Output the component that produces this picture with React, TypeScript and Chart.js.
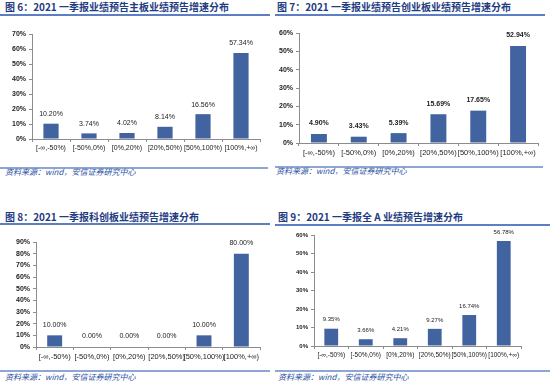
import React, { useEffect, useRef } from "react";
import { Chart, registerables } from "chart.js";
Chart.register(...registerables);

const categories = ["[-∞,-50%)", "[-50%,0%)", "[0%,20%)", "[20%,50%)", "[50%,100%)", "[100%,+∞)"];
const mainBoardValues = [10.2, 3.74, 4.02, 8.14, 16.56, 57.34];
const chiNextValues = [4.9, 3.43, 5.39, 15.69, 17.65, 52.94];
const starMarketValues = [10.0, 0.0, 0.0, 0.0, 10.0, 80.0];
const allAValues = [9.35, 3.66, 4.21, 9.27, 16.74, 56.78];

const titles = [
  "图 6：2021 一季报业绩预告主板业绩预告增速分布",
  "图 7：2021 一季报业绩预告创业板业绩预告增速分布",
  "图 8：2021 一季报科创板业绩预告增速分布",
  "图 9：2021 一季报全 A 业绩预告增速分布",
];
const sourceText = "资料来源：wind，安信证券研究中心";

const BAR = "#41639F";
const AXIS = "#8c8c8c";
const TITLE_COLOR = "#1F3B82";
const LINE_COLOR = "#5B7FC2";
const SEP_COLOR = "#8EA6D6";
const FONT = "'Liberation Sans', Arial, sans-serif";
const CJK = "'Noto Sans CJK SC', sans-serif";

type PanelCfg = {
  values: number[];
  max: number;
  left: number; top: number; width: number; height: number;
  yw: number; padTop: number; padRight: number; xh: number;
  tickSize: number; catSize: number; labelSize: number; labelBold: boolean; labelOffset: number;
};

const panels: PanelCfg[] = [
  { values: mainBoardValues, max: 70, left: 0, top: 20, width: 270, height: 140, yw: 32, padTop: 14, padRight: 10, xh: 21, tickSize: 7, catSize: 7, labelSize: 7, labelBold: false, labelOffset: 6 },
  { values: chiNextValues, max: 60, left: 275, top: 20, width: 275, height: 145, yw: 24, padTop: 13, padRight: 12, xh: 22, tickSize: 7, catSize: 7.5, labelSize: 7, labelBold: true, labelOffset: 7 },
  { values: starMarketValues, max: 90, left: 0, top: 230, width: 270, height: 135, yw: 36, padTop: 12, padRight: 10, xh: 18, tickSize: 7, catSize: 7.5, labelSize: 7, labelBold: false, labelOffset: 7 },
  { values: allAValues, max: 60, left: 275, top: 228, width: 275, height: 137, yw: 39, padTop: 7, padRight: 29, xh: 19, tickSize: 6, catSize: 6.5, labelSize: 6, labelBold: false, labelOffset: 6 },
];

function Panel({ cfg }: { cfg: PanelCfg }) {
  const ref = useRef<HTMLCanvasElement | null>(null);
  useEffect(() => {
    if (!ref.current) return;
    const labelPlugin = {
      id: "valueLabels",
      afterDatasetsDraw(chart: any) {
        const ctx = chart.ctx;
        const meta = chart.getDatasetMeta(0);
        ctx.save();
        ctx.font = `${cfg.labelBold ? "bold " : ""}${cfg.labelSize}px ${FONT}`;
        ctx.fillStyle = "#222";
        ctx.textAlign = "center";
        ctx.textBaseline = "bottom";
        meta.data.forEach((bar: any, i: number) => {
          const v = chart.data.datasets[0].data[i] as number;
          ctx.fillText(v.toFixed(2) + "%", bar.x, bar.y - cfg.labelOffset);
        });
        ctx.restore();
      },
    };
    const chart = new Chart(ref.current, {
      type: "bar",
      data: {
        labels: categories,
        datasets: [{ data: cfg.values, backgroundColor: BAR, barPercentage: 0.4, categoryPercentage: 1 }],
      },
      options: {
        animation: false,
        responsive: false,
        maintainAspectRatio: false,
        layout: { padding: { top: cfg.padTop, right: cfg.padRight, left: 0, bottom: 0 } },
        plugins: { legend: { display: false }, tooltip: { enabled: false } },
        scales: {
          x: {
            grid: { display: true, drawOnChartArea: false, tickLength: 3, color: AXIS, offset: true },
            border: { color: AXIS },
            ticks: { font: { family: FONT, size: cfg.catSize }, color: "#222", padding: 2, maxRotation: 0, autoSkip: false },
            afterFit: (s: any) => { s.height = cfg.xh; },
          },
          y: {
            min: 0,
            max: cfg.max,
            grid: { display: true, drawOnChartArea: false, tickLength: 3, color: AXIS },
            border: { color: AXIS },
            ticks: { stepSize: 10, callback: (v: any) => v + "%", font: { family: FONT, size: cfg.tickSize, weight: "bold" }, color: "#222", padding: 3 },
            afterFit: (s: any) => { s.width = cfg.yw; },
          },
        },
      } as any,
      plugins: [labelPlugin],
    });
    return () => chart.destroy();
  }, [cfg]);
  return (
    <canvas
      ref={ref}
      width={cfg.width}
      height={cfg.height}
      style={{ position: "absolute", left: cfg.left, top: cfg.top, width: cfg.width, height: cfg.height }}
    />
  );
}

const titleStyle = (left: number, top: number): React.CSSProperties => ({
  position: "absolute", left, top, fontFamily: CJK, fontWeight: "bold", fontSize: 10, color: TITLE_COLOR,
  lineHeight: "12px", whiteSpace: "nowrap",
});
const lineStyle = (left: number, top: number, width: number, color: string, h = 1.5): React.CSSProperties => ({
  position: "absolute", left, top, width, height: h, background: color,
});
const srcStyle = (left: number, top: number): React.CSSProperties => ({
  position: "absolute", left, top, fontFamily: CJK, fontStyle: "italic", fontSize: 8, color: "#2B4FA0",
  lineHeight: "10px", whiteSpace: "nowrap",
});

export default function App() {
  return (
    <div style={{ position: "fixed", left: 0, top: 0, width: 550, height: 385, background: "#fff", overflow: "hidden" }}>
      <div style={titleStyle(5, 1)}>{titles[0]}</div>
      <div style={titleStyle(277, 1)}>{titles[1]}</div>
      <div style={titleStyle(5, 211)}>{titles[2]}</div>
      <div style={titleStyle(278, 211)}>{titles[3]}</div>
      <div style={lineStyle(0, 14, 270, LINE_COLOR)} />
      <div style={lineStyle(275, 14, 270, LINE_COLOR)} />
      <div style={lineStyle(0, 223, 270, LINE_COLOR)} />
      <div style={lineStyle(275, 224, 275, LINE_COLOR)} />
      <div style={lineStyle(0, 167, 268, SEP_COLOR)} />
      <div style={lineStyle(275, 166, 268, SEP_COLOR)} />
      <div style={lineStyle(0, 370, 270, SEP_COLOR)} />
      <div style={lineStyle(275, 370, 275, SEP_COLOR)} />
      <div style={srcStyle(5, 166.5)}>{sourceText}</div>
      <div style={srcStyle(276, 166)}>{sourceText}</div>
      <div style={srcStyle(5, 372)}>{sourceText}</div>
      <div style={srcStyle(278, 372)}>{sourceText}</div>
      {panels.map((p, i) => <Panel key={i} cfg={p} />)}
    </div>
  );
}
